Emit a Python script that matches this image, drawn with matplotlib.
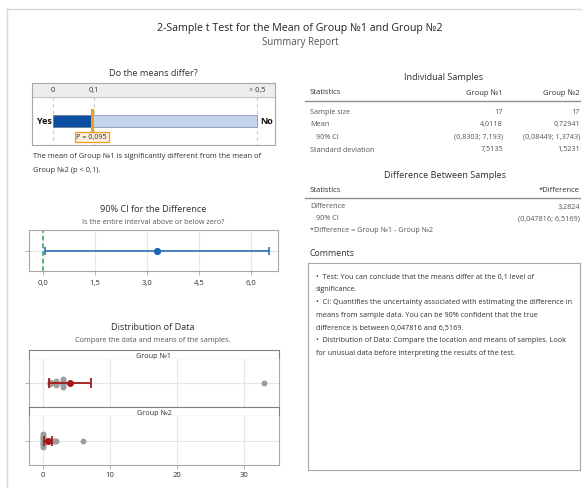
import matplotlib
matplotlib.use('Agg')
import matplotlib.pyplot as plt
from matplotlib.lines import Line2D
from collections import Counter

W, H = 582, 488
plt.rcParams['font.family'] = ['Open Sans', 'DejaVu Sans']

# --- data ---
p_value = 0.095
p_ticks = [0, 0.1, 0.5]
p_tick_labels = ['0', '0,1', '> 0,5']

diff_est = 3.2824
diff_ci = (0.047816, 6.5169)
ci_ticks = [0, 1.5, 3.0, 4.5, 6.0]
ci_tick_labels = ['0,0', '1,5', '3,0', '4,5', '6,0']

groups = ['Group №1', 'Group №2']
group1 = [1, 1, 1, 1.2, 2, 2, 2, 2, 2, 3, 3, 3, 3, 3, 3, 3, 33]
group2 = [0, 0, 0, 0, 0, 0, 0, 0, 0, 0, 0, 0.4, 0.7, 1.5, 1.8, 2, 6]
group_means = [4.0118, 0.72941]
group_cis = [(0.8303, 7.193), (0.08449, 1.3743)]
dist_ticks = [0, 10, 20, 30]

stat_rows = ['Sample size', 'Mean', '90% CI', 'Standard deviation']
stat_g1 = ['17', '4,0118', '(0,8303; 7,193)', '7,5135']
stat_g2 = ['17', '0,72941', '(0,08449; 1,3743)', '1,5231']
diff_rows = ['Difference', '90% CI']
diff_vals = ['3,2824', '(0,047816; 6,5169)']
comment_lines = [
    '\u2022  Test: You can conclude that the means differ at the 0,1 level of',
    'significance.',
    '\u2022  CI: Quantifies the uncertainty associated with estimating the difference in',
    'means from sample data. You can be 90% confident that the true',
    'difference is between 0,047816 and 6,5169.',
    '\u2022  Distribution of Data: Compare the location and means of samples. Look',
    'for unusual data before interpreting the results of the test.',
]

DARK = '#303030'
GRAY_TXT = '#555555'
SPINE = '#A8A8A8'
GRID = '#E6E6E6'
HEAD = 6.6

fig = plt.figure(figsize=(W / 100, H / 100), dpi=100)


def ax_px(x0, y0, x1, y1):
    return fig.add_axes([x0 / W, 1 - y1 / H, (x1 - x0) / W, (y1 - y0) / H])


def txt(x, y, s, **kw):
    kw.setdefault('va', 'center')
    kw.setdefault('color', DARK)
    return fig.text(x / W, 1 - y / H, s, **kw)


def hline(y, x0, x1, **kw):
    fig.add_artist(Line2D([x0 / W, x1 / W], [1 - y / H, 1 - y / H], **kw))


# page frame
fig.add_artist(Line2D([7 / W, 7 / W], [1 - 9 / H, 0], color='#D8D8D8', lw=1))
hline(9, 7, W, color='#D8D8D8', lw=1)

# titles
txt(300, 29, '2-Sample t Test for the Mean of Group №1 and Group №2',
    ha='center', fontsize=7.7, color='#222222')
txt(300, 43, 'Summary Report', ha='center', fontsize=6.9, color=GRAY_TXT)

# --- Do the means differ? ---
txt(153, 73, 'Do the means differ?', ha='center', fontsize=HEAD)
ax = ax_px(32, 83, 275, 145)
ax.set_xlim((32 - 53) / 408, (275 - 53) / 408)
ax.set_ylim(145, 83)
ax.axhspan(83, 97, color='#EDEDED', zorder=0)
ax.axhline(97, color='#C8C8C8', lw=0.8)
for t, lab in zip(p_ticks, p_tick_labels):
    ax.plot([t, t], [97, 145], ls=(0, (3, 3)), color='#C8C8C8', lw=0.8, zorder=1)
    ax.text(t, 90, lab, ha='center', va='center', fontsize=5.3, color=DARK)
ax.barh(121, p_value, left=0, height=12, color='#0B4EA2', edgecolor='#6E7F99', lw=0.6, zorder=2)
ax.barh(121, p_ticks[-1] - p_value, left=p_value, height=12, color='#C3D4EC',
        edgecolor='#8A9AB0', lw=0.6, zorder=2)
ax.plot([p_value, p_value], [110, 132], color='#F39C1F', lw=2.2, zorder=3)
ax.text(p_value, 137, 'P = 0,095', ha='center', va='center', fontsize=5.2, color=DARK, zorder=4,
        bbox=dict(boxstyle='square,pad=0.2', fc='#FDEFD9', ec='#F39C1F', lw=0.9))
ax.text((37 - 53) / 408, 121, 'Yes', ha='left', va='center', fontsize=6.5, fontweight='bold', color='#111111')
ax.text((273 - 53) / 408, 121, 'No', ha='right', va='center', fontsize=6.5, fontweight='bold', color='#111111')
ax.set_xticks([])
ax.set_yticks([])
for s in ax.spines.values():
    s.set_color(SPINE)
    s.set_linewidth(0.8)

txt(33, 157, 'The mean of Group №1 is significantly different from the mean of', fontsize=5.4)
txt(33, 170, 'Group №2 (p < 0,1).', fontsize=5.4)

# --- 90% CI for the Difference ---
txt(153, 210, '90% CI for the Difference', ha='center', fontsize=HEAD)
txt(153, 222, 'Is the entire interval above or below zero?', ha='center', fontsize=5.2, color=GRAY_TXT)
ax2 = ax_px(29, 230, 278, 271)
ax2.set_xlim((29 - 43) / 34.7, (278 - 43) / 34.7)
ax2.set_ylim(0, 1)
ax2.set_xticks(ci_ticks)
ax2.set_xticklabels(ci_tick_labels)
ax2.set_yticks([0.5])
ax2.set_yticklabels([])
ax2.grid(True, color=GRID, lw=0.8)
ax2.set_axisbelow(True)
ax2.axvline(0, color='#2DA84A', ls=(0, (3, 2)), lw=1.1, zorder=2)
ax2.errorbar([diff_est], [0.5], xerr=[[diff_est - diff_ci[0]], [diff_ci[1] - diff_est]],
             fmt='o', color='#1F64B4', ms=4.2, lw=1.1, capsize=3, capthick=1.1, zorder=3)
ax2.tick_params(labelsize=5.5, colors=DARK, length=3, width=0.6)
ax2.tick_params(axis='both', color=SPINE)
for s in ax2.spines.values():
    s.set_color(SPINE)
    s.set_linewidth(0.8)

# --- Distribution of Data ---
txt(153, 327, 'Distribution of Data', ha='center', fontsize=HEAD)
txt(153, 340, 'Compare the data and means of the samples.', ha='center', fontsize=5.2, color=GRAY_TXT)
dist_xlim = ((29 - 43) / 6.7, (279 - 43) / 6.7)
panels = [(350, 359, 407), (407, 416, 465)]
data = [group1, group2]
for i, (top, mid, bot) in enumerate(panels):
    st = ax_px(29, top, 279, mid)
    st.set_xticks([])
    st.set_yticks([])
    st.text(0.5, 0.3, groups[i], ha='center', va='center', fontsize=5.2, color=DARK,
            transform=st.transAxes)
    for s in st.spines.values():
        s.set_color('#808080')
        s.set_linewidth(0.8)

    pa = ax_px(29, mid, 279, bot)
    pa.set_xlim(*dist_xlim)
    pa.set_ylim(0, 1)
    pa.set_xticks(dist_ticks)
    pa.set_yticks([0.5])
    pa.set_yticklabels([])
    pa.grid(True, color=GRID, lw=0.8)
    pa.set_axisbelow(True)
    # stack tied values a little, like the individual value plot
    counts = Counter(data[i])
    xs, ys = [], []
    for v, n in counts.items():
        for k in range(n):
            xs.append(v)
            ys.append(0.5 + (k - (n - 1) / 2) * 0.025)
    pa.scatter(xs, ys, s=18, color='#9C9C9C', zorder=2, lw=0)
    m = group_means[i]
    lo, hi = group_cis[i]
    pa.errorbar([m], [0.5], xerr=[[m - lo], [hi - m]], fmt='o', color='#A31A1A',
                ms=4, lw=1.3, capsize=3.5, capthick=1.3, zorder=3)
    pa.tick_params(labelsize=5.5, colors=DARK, length=3, width=0.6, pad=2)
    pa.tick_params(axis='both', color=SPINE)
    if i == 0:
        pa.tick_params(axis='x', labelbottom=False, length=0)
    for s in pa.spines.values():
        s.set_color(SPINE)
        s.set_linewidth(0.8)
    pa.spines['top'].set_visible(False)

# --- Individual Samples table ---
txt(444, 77, 'Individual Samples', ha='center', fontsize=HEAD)
txt(310, 93, 'Statistics', fontsize=5.5)
txt(503, 93, groups[0], ha='right', fontsize=5.5)
txt(580, 93, groups[1], ha='right', fontsize=5.5)
hline(101, 305, 580, color='#909090', lw=1)
row_y = [112, 124.5, 137, 150]
for y, lab, a, b in zip(row_y, stat_rows, stat_g1, stat_g2):
    indent = 316 if lab == '90% CI' else 310
    txt(indent, y, lab, fontsize=5.2, color=GRAY_TXT)
    txt(503, y, a, ha='right', fontsize=5.2, color=GRAY_TXT)
    txt(580, y, b, ha='right', fontsize=5.2, color=GRAY_TXT)

# --- Difference Between Samples ---
txt(445, 176, 'Difference Between Samples', ha='center', fontsize=HEAD)
txt(310, 190, 'Statistics', fontsize=5.5)
txt(580, 190, '*Difference', ha='right', fontsize=5.5)
hline(198, 305, 580, color='#909090', lw=1)
for y, lab, v in zip([207, 219], diff_rows, diff_vals):
    indent = 316 if lab == '90% CI' else 310
    txt(indent, y, lab, fontsize=5.2, color=GRAY_TXT)
    txt(580, y, v, ha='right', fontsize=5.2, color=GRAY_TXT)
txt(310, 231, '*Difference = Group №1 - Group №2', fontsize=5.2, color=GRAY_TXT)

# --- Comments ---
txt(310, 253, 'Comments', fontsize=6.3)
cb = ax_px(308, 263, 580, 470)
cb.set_xticks([])
cb.set_yticks([])
for s in cb.spines.values():
    s.set_color(SPINE)
    s.set_linewidth(0.8)
for j, line in enumerate(comment_lines):
    txt(316, 277 + j * 12.8, line, fontsize=5.2, color=DARK)

fig.savefig('out.png', dpi=100)
